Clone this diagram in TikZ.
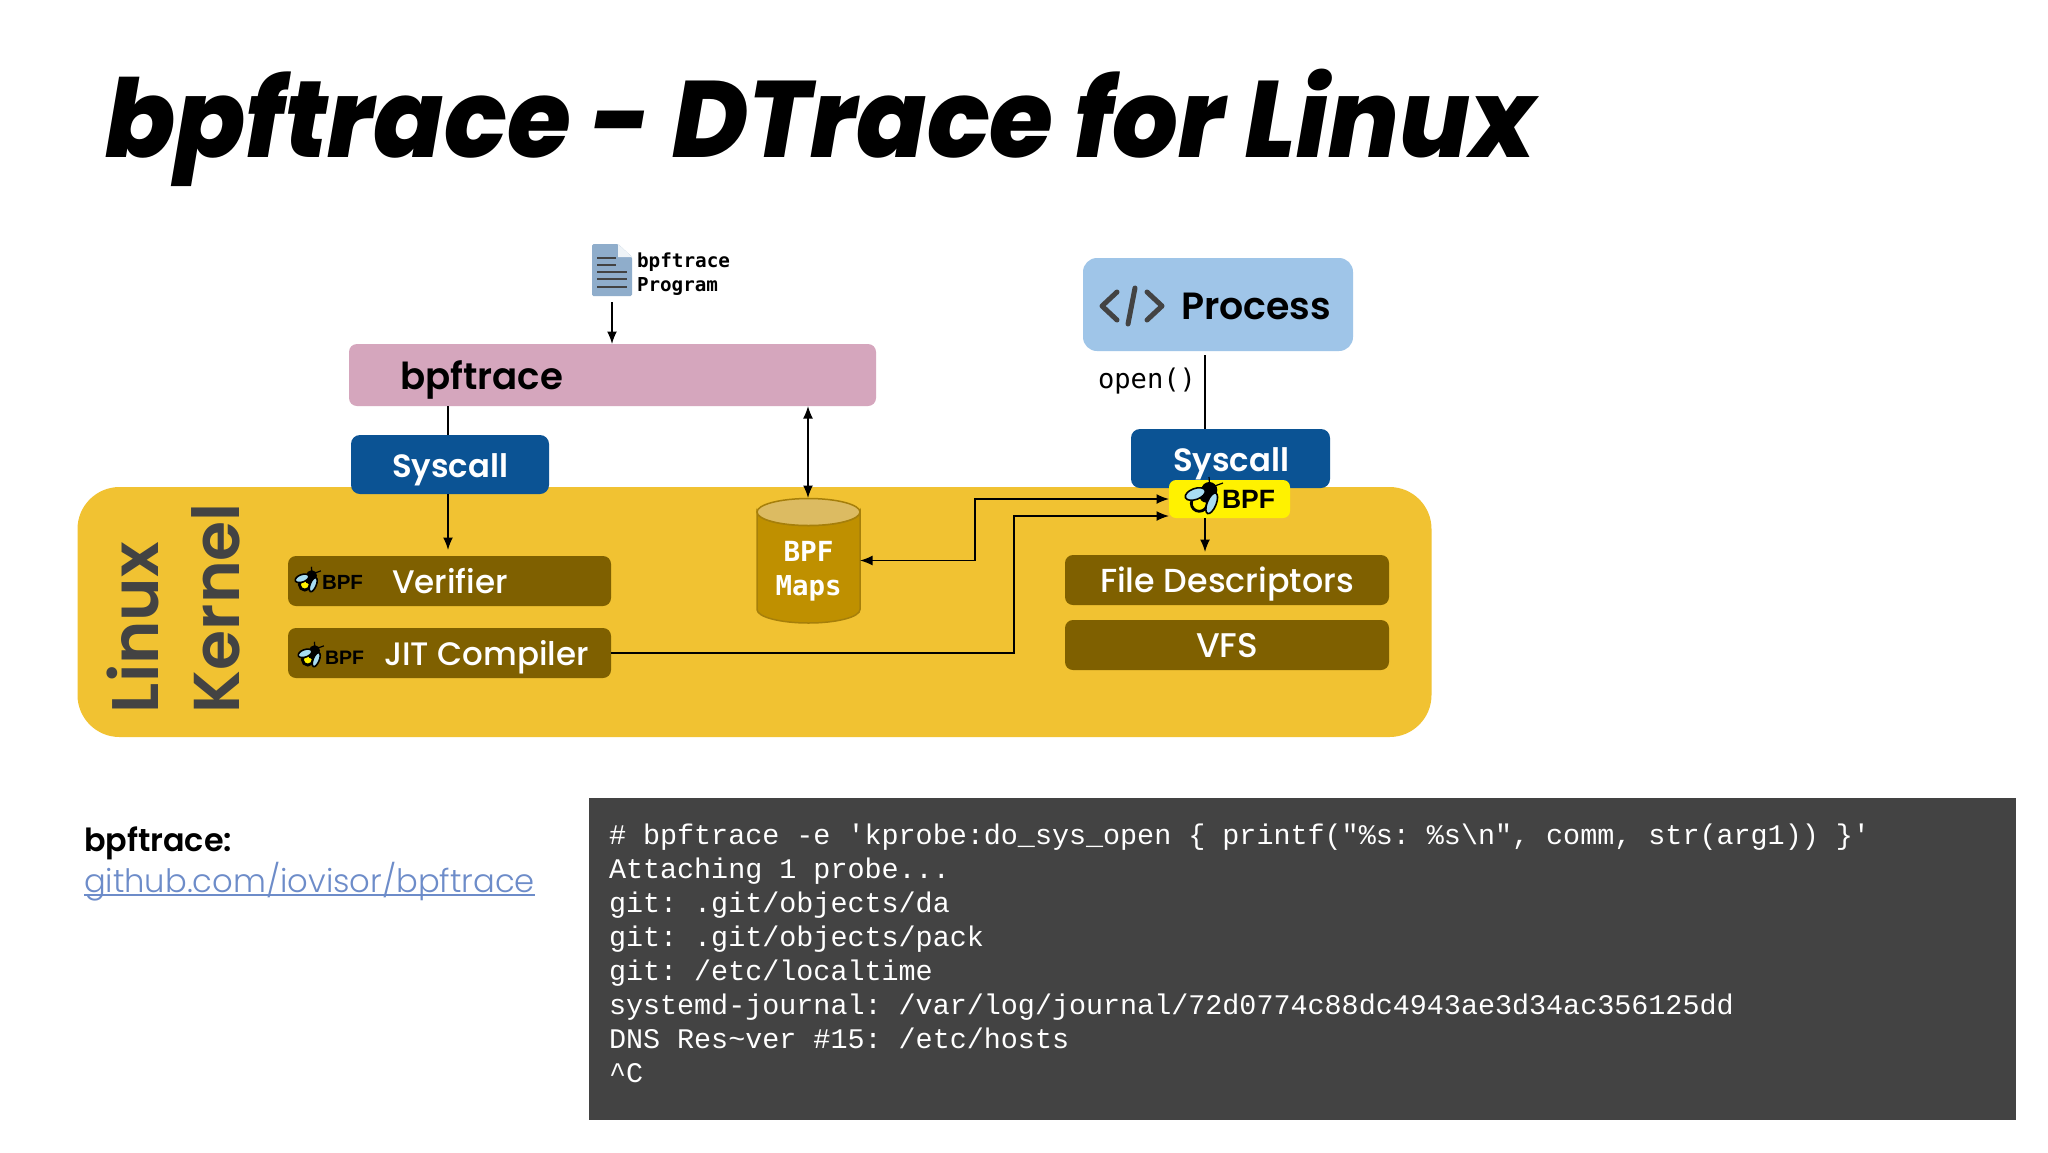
\documentclass[tikz,border=0pt]{standalone}
\usepackage{graphicx}
\usepackage{fontspec}
\setmainfont{Poppins}
\newfontfamily\fTitle{Poppins ExtraBold Italic}
\newfontfamily\fSemi{Poppins SemiBold}
\newfontfamily\fMed{Poppins Medium}
\newfontfamily\fLight{Poppins Light}
\newfontfamily\fMono{Liberation Mono}
\newfontfamily\fMonoB{DejaVu Sans Mono Bold}
\newfontfamily\fMonoD{DejaVu Sans Mono}
\newfontfamily\fBpf{Liberation Sans Bold}
\usetikzlibrary{arrows.meta}
\definecolor{kern}{HTML}{F1C232}
\definecolor{dkbox}{HTML}{7F6000}
\definecolor{sysc}{HTML}{0B5394}
\definecolor{pink}{HTML}{D5A6BD}
\definecolor{proc}{HTML}{9FC5E8}
\definecolor{term}{HTML}{434343}
\definecolor{cylb}{HTML}{BF9000}
\definecolor{cylt}{HTML}{DCBB62}
\definecolor{cyls}{HTML}{A67F0A}
\definecolor{filec}{HTML}{8FADCB}
\definecolor{linkc}{HTML}{6D8CC9}
\definecolor{wing}{HTML}{A8DDF2}
\tikzset{
  px/.style={x=1pt,y=-1pt},
  box/.style={draw=none,rounded corners=#1,inner sep=0pt,outer sep=0pt},
  box/.default=8pt,
  lab/.style={inner sep=0pt,outer sep=0pt,anchor=base west},
  cen/.style={inner sep=0pt,outer sep=0pt,anchor=base},
  wire/.style={line width=1.6pt,black},
  arr/.style={wire,-{Latex[length=12.5pt,width=10pt]}},
  arrb/.style={wire,{Latex[length=12.5pt,width=10pt]}-{Latex[length=12.5pt,width=10pt]}},
  tl/.style={lab,font=\frenchspacing\fMono\fontsize{28.4}{28.4}\selectfont,text=white},
  pics/bee/.style={code={
    \draw[black,line width=1.2pt] (6,-6) -- (5,-18) (8,-8) -- (19,-12);
    \fill[black] (5.3,-5) circle[radius=8];
    \draw[black,fill=yellow,line width=2.8pt] (-4.7,8.3) circle[radius=8];
    \fill[black] (2,1) circle[radius=6.5];
    \draw[black,fill=wing,line width=1.6pt,rotate around={20:(-8.7,-1)}] (-8.7,-1) ellipse[x radius=10.5,y radius=5.5];
    \draw[black,fill=wing,line width=1.6pt,rotate around={68:(7.7,8.3)}] (7.7,8.3) ellipse[x radius=11,y radius=4.5];
  }},
}
\newcommand{\fitw}[3]{\resizebox{#1pt}{!}{#2#3}}
\begin{document}
\begin{tikzpicture}[px]
\useasboundingbox (0,0) rectangle (2048,1152);
\fill[white] (0,0) rectangle (2048,1152);
% title
\node[lab] (title) at (105,157) {\scalebox{1}[1.05]{\fitw{1430}{\fTitle\fontsize{100}{100}\selectfont}{bpftrace - DTrace for Linux}}};
% kernel
\node[box=42pt,fill=kern,minimum width=1354pt,minimum height=250pt] (kernel) at (754.5,612) {};
\node[lab,rotate=90,text=term] (linux) at (158,713) {\fitw{171}{\fSemi\fontsize{60}{60}\selectfont}{Linux}};
\node[lab,rotate=90,text=term] (kerneltxt) at (239,713) {\fitw{210}{\fSemi\fontsize{60}{60}\selectfont}{Kernel}};
% program file
\node[minimum width=40pt,minimum height=52pt,inner sep=0pt] (prog) at (612,270) {};
\fill[filec,rounded corners=1.5pt] (592,244) -- (618,244) -- (632,257) -- (632,296) -- (592,296) -- cycle;
\fill[white!85!filec] (618,244) -- (632,257) -- (618,257) -- cycle;
\foreach \yy/\xe in {258/616,265/616,272/627,279/627,287/627}
  \draw[term,line width=2.4pt] (597,\yy) -- (\xe,\yy);
\node[lab] (progt1) at (637,267) {\fitw{93}{\fMonoB\fontsize{19}{19}\selectfont}{bpftrace}};
\node[lab] (progt2) at (637,291) {\fitw{81}{\fMonoB\fontsize{19}{19}\selectfont}{Program}};
% bpftrace box
\node[box,fill=pink,minimum width=527pt,minimum height=62pt] (bt) at (612.5,375) {};
\node[lab] (btt) at (400,389) {\fitw{163}{\fSemi\fontsize{40}{40}\selectfont}{bpftrace}};
% left syscall
\node[box=9pt,fill=sysc,minimum width=198pt,minimum height=59pt] (sysl) at (450,464.5) {};
\node[cen,text=white] (syslt) at (450,477) {\fitw{116}{\fSemi\fontsize{36}{36}\selectfont}{Syscall}};
% verifier, JIT
\node[box=8pt,fill=dkbox,minimum width=323pt,minimum height=50pt] (ver) at (449.5,581) {};
\node[lab,text=white] (vert) at (392,593) {\fitw{116}{\fMed\fontsize{36}{36}\selectfont}{Verifier}};
\node[lab] (verb) at (322,589) {\fitw{41}{\fBpf\fontsize{20}{20}\selectfont}{BPF}};
\pic[transform shape,scale=.68] at (308,579) {bee};
\node[box=8pt,fill=dkbox,minimum width=323pt,minimum height=50pt] (jit) at (449.5,653) {};
\node[lab,text=white] (jitt) at (384,665) {\fitw{205}{\fMed\fontsize{36}{36}\selectfont}{JIT Compiler}};
\node[lab] (jitb) at (325,664) {\fitw{39}{\fBpf\fontsize{20}{20}\selectfont}{BPF}};
\pic[transform shape,scale=.68] at (311,654) {bee};
% maps
\node[minimum width=103pt,minimum height=125pt,inner sep=0pt,outer sep=0pt] (maps) at (808.5,560.5) {};
\draw[fill=cylb,draw=cyls,line width=1.5pt] (757,512) -- (757,609.5) arc[start angle=180,end angle=0,x radius=51.5,y radius=13.5] -- (860,512) arc[start angle=0,end angle=180,x radius=51.5,y radius=13.5] -- cycle;
\draw[fill=cylt,draw=cyls,line width=1.5pt] (808.5,512) ellipse[x radius=51.5,y radius=13.5];
\node[cen,text=white] (mapst1) at (808.5,561) {\fitw{50}{\fMonoB\fontsize{26}{26}\selectfont}{BPF}};
\node[cen,text=white] (mapst2) at (808.5,595) {\fitw{66}{\fMonoB\fontsize{26}{26}\selectfont}{Maps}};
% process
\node[box=14pt,fill=proc,minimum width=270pt,minimum height=93pt] (proc) at (1218,304.5) {};
\draw[term,line width=5pt,line cap=round,line join=round] (1117,292) -- (1102,306) -- (1117,320) (1135,288) -- (1128,324) (1147,292) -- (1162,306) -- (1147,320);
\node[lab] (proct) at (1181,319) {\fitw{150}{\fSemi\fontsize{40}{40}\selectfont}{Process}};
\node[lab] (opent) at (1098,388) {\fitw{98}{\fMonoD\fontsize{27}{27}\selectfont}{open()}};
% right syscall
\node[box=9pt,fill=sysc,minimum width=199pt,minimum height=59pt] (sysr) at (1230.5,458.5) {};
\node[cen,text=white] (sysrt) at (1231,471) {\fitw{116}{\fSemi\fontsize{36}{36}\selectfont}{Syscall}};
% yellow bpf
\node[box=7pt,fill=yellow,minimum width=121pt,minimum height=38pt] (ybpf) at (1229.5,499) {};
\pic at (1204,495) {bee};
\node[lab] (ybpft) at (1222,508) {\fitw{53}{\fBpf\fontsize{27}{27}\selectfont}{BPF}};
% fd, vfs
\node[box=8pt,fill=dkbox,minimum width=324pt,minimum height=50pt] (fd) at (1227,580) {};
\node[cen,text=white] (fdt) at (1227,592) {\fitw{254}{\fMed\fontsize{36}{36}\selectfont}{File Descriptors}};
\node[box=8pt,fill=dkbox,minimum width=324pt,minimum height=50pt] (vfs) at (1227,645) {};
\node[cen,text=white] (vfst) at (1227,657) {\fitw{62}{\fMed\fontsize{36}{36}\selectfont}{VFS}};
% connectors
\draw[arr] (prog.south) ++(0,6) -- (prog.south |- bt.north);
\draw[wire] ([xshift=-2pt]sysl.north) -- ([xshift=-2pt]sysl.north |- bt.south);
\draw[arr] ([xshift=-2pt]sysl.south) -- ([xshift=-2pt,yshift=6pt]sysl.south |- ver.north);
\draw[arrb] (maps.north -| 808,0) -- (bt.south -| 808,0);
\coordinate (u1) at (975,561);
\coordinate (u2) at (975,499);
\coordinate (l2) at (1014,516);
\draw[arrb] (maps.east) -- (maps.east -| u1) -- (u2) -- (ybpf.west |- u2);
\draw[arr] (jit.east) -- (jit.east -| l2) -- (l2) -- (ybpf.west |- l2);
\draw[wire] (proc.south -| 1205,0) ++(0,4) -- (sysr.north -| 1205,0);
\draw[arr] (ybpf.south -| 1205,0) -- ([yshift=3pt]fd.north -| 1205,0);
% lower left
\node[lab] (lnk1) at (84,851) {\fitw{148}{\fSemi\fontsize{32}{32}\selectfont}{bpftrace:}};
\node[lab,text=linkc] (lnk2) at (84,892) {\fitw{451}{\fLight\fontsize{36}{36}\selectfont}{github.com/iovisor/bpftrace}};
\coordinate (ul) at (84,895);
\draw[linkc,line width=1.6pt] (ul) -- (lnk2.base east |- ul);
% terminal
\node[inner sep=0pt,outer sep=0pt,fill=term,minimum width=1427pt,minimum height=322pt] (term) at (1302.5,959) {};
\node[tl] (t1) at (609,844) {\# bpftrace -e 'kprobe:do\_sys\_open \{ printf("\%s: \%s\textbackslash n", comm, str(arg1)) \}'};
\node[tl] (t2) at (609,878) {Attaching 1 probe...};
\node[tl] (t3) at (609,912) {git: .git/objects/da};
\node[tl] (t4) at (609,946) {git: .git/objects/pack};
\node[tl] (t5) at (609,980) {git: /etc/localtime};
\node[tl] (t6) at (609,1014) {systemd-journal: /var/log/journal/72d0774c88dc4943ae3d34ac356125dd};
\node[tl] (t7) at (609,1048) {DNS Res\textasciitilde ver \#15: /etc/hosts};
\node[tl] (t8) at (609,1082) {\textasciicircum C};
\end{tikzpicture}
\end{document}
